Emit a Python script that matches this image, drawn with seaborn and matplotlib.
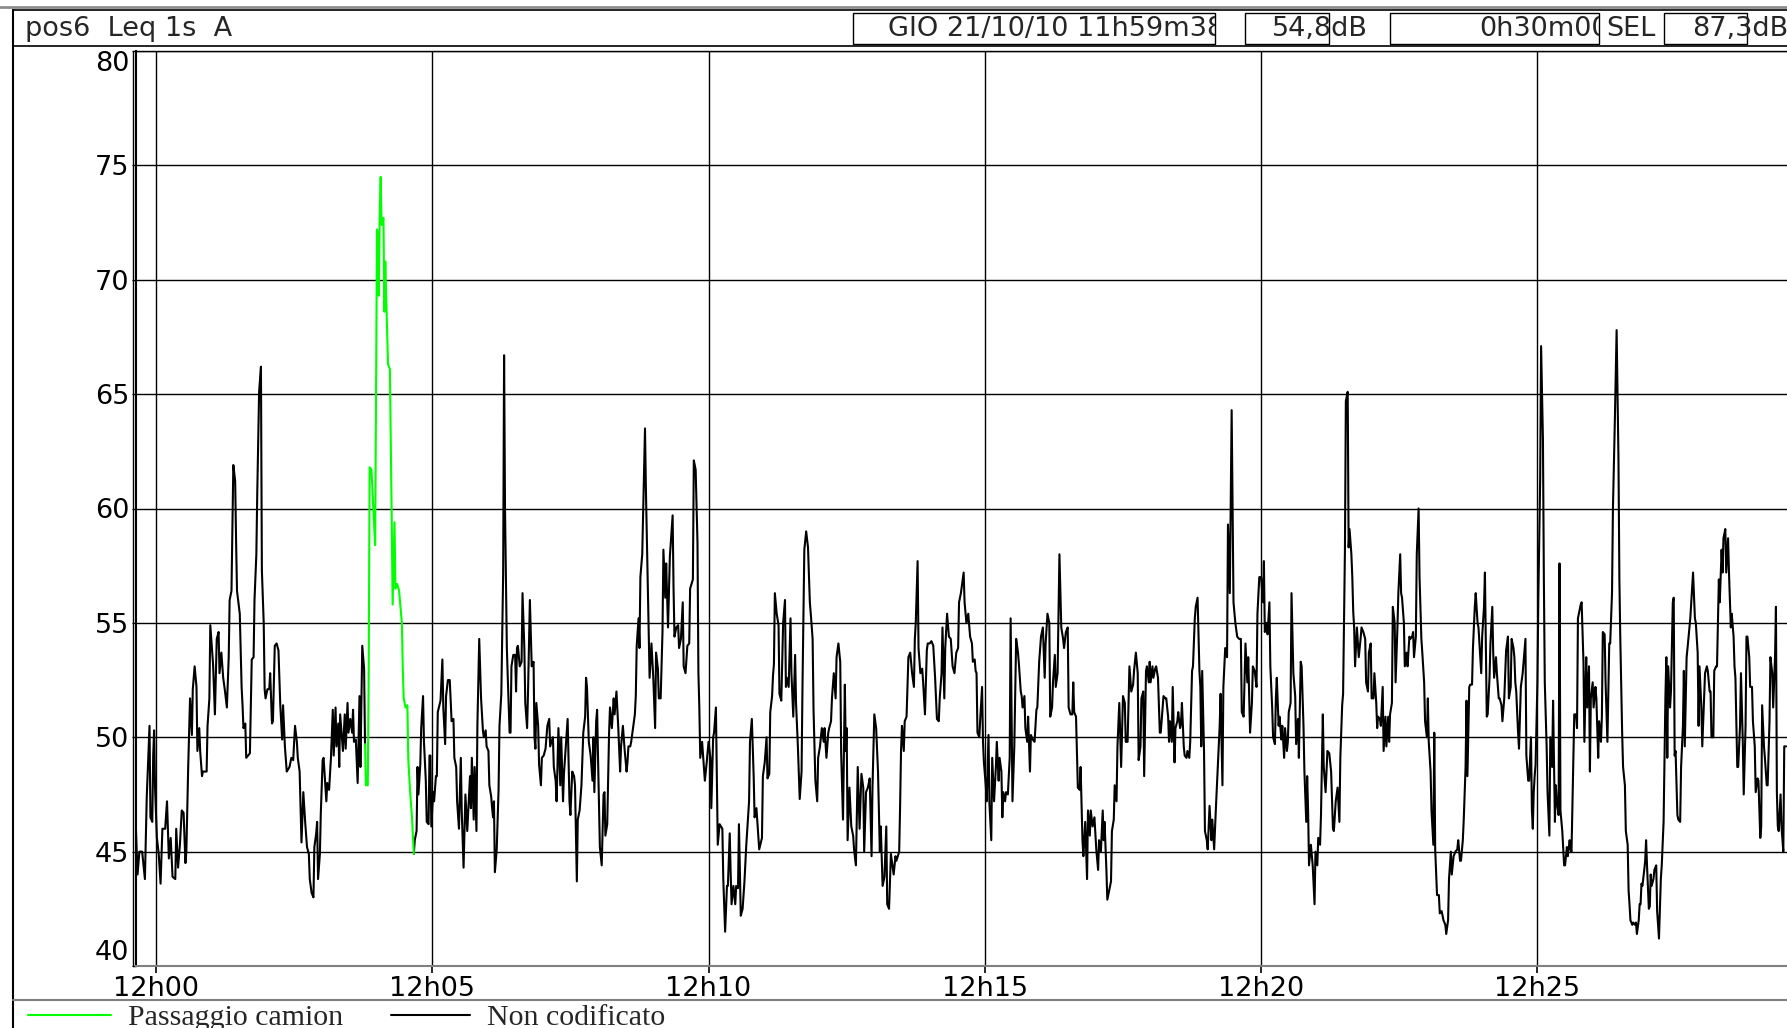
import numpy as np
import pandas as pd
import matplotlib
matplotlib.use("Agg")
import matplotlib.pyplot as plt
import matplotlib.dates as mdates
from matplotlib.lines import Line2D
from matplotlib.patches import Rectangle
from matplotlib.transforms import Bbox, TransformedBbox
import seaborn as sns

W, H = 1787, 1028
START = pd.Timestamp("2010-10-21 11:59:38")
VIEW_END = START + pd.Timedelta(seconds=1793)

TRUCK = "Passaggio camion"
OTHER = "Non codificato"
Y_TICKS = [40, 45, 50, 55, 60, 65, 70, 75, 80]

HEADER_TITLE = "pos6  Leq 1s  A"
HEADER_DATE = "GIO 21/10/10 11h59m38"
HEADER_LEQ = "54,8dB"
HEADER_DUR = "0h30m00"
HEADER_SEL_LABEL = "SEL"
HEADER_SEL = "87,3dB"

# Leq 1s (dB A), seconds after 11:59:38
sec_1200 = [0, 2, 4, 7, 10, 12, 15, 16, 18, 19,
            20, 21, 23, 25, 27, 29, 32, 34, 36, 38,
            40, 43, 44, 46, 48, 50, 52, 54, 55, 57,
            59, 61, 62, 64, 66, 67, 69, 70, 72, 73,
            77, 78, 80, 81, 84, 86, 88, 90, 91, 93,
            95, 97, 99, 101, 102, 104, 106, 108, 109, 110,
            113, 115, 116, 117, 119, 120, 122, 124, 126, 128,
            129, 131, 132, 134, 136, 137, 139, 140, 141, 143,
            145, 146, 148, 149, 151, 153, 155, 157, 159, 160,
            162, 164, 167, 169, 171, 173, 175, 176, 178, 180,
            182, 184, 186, 188, 189, 191, 193, 194, 196, 197,
            198, 200, 201, 203, 204, 207, 208, 210, 212, 214,
            215, 217, 218, 220, 221, 222, 225, 227, 228, 230,
            231, 233, 235, 236, 237, 239, 241, 243, 244, 246,
            248, 249]
db_1200 = [46.3, 44.0, 45.0, 45.0, 43.8, 47.4, 50.5, 46.5, 46.3, 49.2,
           50.3, 47.8, 45.6, 44.9, 43.6, 46.0, 46.0, 47.2, 44.7, 45.6,
           43.9, 43.8, 46.0, 44.3, 45.3, 46.8, 46.7, 44.5, 45.0, 48.7,
           51.7, 50.1, 52.1, 53.1, 52.2, 49.4, 50.4, 49.4, 48.3, 48.5,
           48.5, 50.5, 51.7, 54.9, 53.2, 51.0, 54.3, 54.6, 52.8, 53.7,
           52.6, 52.0, 51.3, 53.5, 56.0, 56.4, 61.9, 61.2, 58.6, 56.4,
           55.4, 52.2, 51.4, 50.4, 50.6, 49.1, 49.2, 49.3, 53.4, 53.5,
           56.0, 58.0, 60.7, 65.1, 66.2, 57.3, 55.0, 52.1, 51.7, 52.1,
           52.1, 52.8, 50.6, 50.7, 54.0, 54.1, 53.8, 51.4, 49.9, 51.4,
           49.6, 48.5, 48.7, 49.1, 49.0, 50.5, 49.8, 49.1, 48.5, 45.4,
           47.6, 46.3, 45.2, 44.9, 43.8, 43.2, 43.0, 45.2, 45.8, 46.3,
           43.8, 44.9, 46.7, 49.0, 49.1, 47.2, 48.0, 47.7, 49.1, 51.2,
           49.2, 51.3, 49.6, 50.6, 48.7, 51.0, 49.4, 51.0, 49.5, 51.5,
           50.2, 50.8, 50.2, 51.2, 49.8, 49.9, 48.0, 51.8, 48.7, 54.0,
           53.0, 49.7]

truck_sec = [249, 250, 252, 253, 254, 256, 258, 260, 261, 262,
             263, 264, 265, 266, 267, 269, 270, 271, 272, 274,
             276, 278, 279, 281, 282, 284, 286, 289, 290, 291,
             293, 295, 296, 298, 300, 302]
truck_db = [49.7, 47.9, 47.9, 52.8, 61.8, 61.7, 60.0, 58.4, 65.2, 72.2,
            72.0, 69.3, 73.0, 74.5, 72.4, 72.7, 68.6, 70.8, 69.2, 66.3,
            66.1, 59.5, 55.8, 59.4, 56.5, 56.7, 56.4, 55.0, 53.0, 51.7,
            51.3, 51.4, 49.0, 47.6, 46.5, 44.9]

sec_1205 = [302, 303, 305, 306, 307, 309, 310, 312, 313, 315,
            316, 318, 319, 320, 321, 323, 324, 326, 327, 328,
            331, 333, 334, 336, 337, 339, 341, 343, 345, 346,
            348, 349, 351, 353, 354, 356, 358, 360, 361, 363,
            364, 365, 367, 368, 370, 371, 373, 375, 377, 378,
            380, 381, 383, 384, 386, 387, 388, 389, 390, 392,
            394, 395, 397, 399, 400, 401, 403, 404, 406, 407,
            408, 410, 412, 413, 414, 415, 417, 419, 420, 422,
            423, 425, 426, 428, 430, 432, 433, 434, 435, 437,
            438, 440, 441, 443, 445, 447, 449, 450, 453, 454,
            456, 457, 459, 461, 462, 464, 465, 467, 469, 471,
            472, 474, 476, 477, 479, 480, 482, 484, 486, 488,
            489, 490, 492, 494, 496, 497, 498, 500, 501, 502,
            504, 506, 508, 509, 510, 512, 514, 515, 517, 519,
            520, 522, 524, 526, 527, 529, 531, 533, 534, 535,
            537, 538, 540, 542, 543, 544, 546, 547, 548, 550,
            551, 553, 554, 556, 558, 560, 562, 564, 565, 567,
            568, 570, 572, 573, 575, 576, 578, 580, 581, 583,
            584, 585, 587, 589, 590, 592, 594, 595, 597, 599,
            601, 602, 605, 606, 608, 610, 611, 612, 613, 615,
            618, 620]
db_1205 = [44.9, 45.5, 45.9, 48.7, 47.5, 48.8, 50.4, 51.8, 49.8, 48.1,
           46.3, 46.2, 49.2, 49.2, 46.1, 47.6, 47.2, 48.3, 48.3, 51.1,
           51.6, 53.4, 51.3, 49.7, 51.8, 52.5, 52.5, 50.7, 50.8, 49.1,
           48.7, 47.2, 46.0, 49.1, 46.8, 44.3, 47.5, 45.9, 46.7, 48.3,
           46.9, 49.1, 46.4, 48.7, 45.9, 50.5, 54.3, 51.7, 50.3, 50.0,
           50.3, 49.6, 49.4, 47.9, 47.4, 46.9, 46.5, 47.2, 44.1, 45.1,
           47.7, 50.5, 51.9, 57.2, 66.7, 60.0, 53.9, 52.6, 50.2, 50.2,
           53.1, 53.6, 53.6, 52.0, 53.9, 54.0, 53.1, 53.3, 56.3, 53.9,
           51.5, 50.4, 52.0, 56.0, 53.1, 53.3, 50.0, 49.5, 51.5, 50.5,
           48.8, 47.9, 49.1, 49.2, 49.5, 50.5, 50.8, 49.6, 50.0, 48.7,
           48.1, 47.2, 50.4, 47.9, 50.0, 47.2, 48.4, 49.6, 50.8, 47.2,
           46.6, 48.5, 48.3, 47.9, 43.7, 46.4, 46.8, 47.9, 50.2, 50.9,
           52.6, 52.2, 49.8, 49.2, 48.1, 50.0, 47.6, 50.7, 51.2, 49.1,
           45.2, 44.4, 47.5, 47.6, 45.7, 46.2, 50.2, 51.3, 50.4, 51.7,
           51.0, 52.0, 50.4, 48.5, 49.6, 50.5, 49.4, 48.5, 48.9, 49.6,
           49.6, 49.8, 50.4, 51.0, 51.8, 54.0, 55.2, 53.9, 57.0, 58.0,
           59.8, 63.5, 60.8, 56.7, 52.6, 54.1, 52.6, 50.4, 53.7, 53.0,
           51.7, 51.7, 54.6, 58.2, 56.1, 57.6, 54.8, 57.9, 58.5, 59.7,
           56.5, 54.4, 54.8, 54.9, 53.9, 54.3, 55.9, 53.1, 52.8, 54.0,
           54.1, 56.5, 56.9, 62.1, 61.7, 58.5, 52.8, 51.3, 49.1, 49.8,
           48.1, 48.9]

sec_1210 = [622, 624, 625, 627, 628, 630, 632, 634, 637, 638,
            640, 642, 643, 645, 646, 647, 649, 651, 652, 654,
            655, 657, 659, 661, 663, 665, 666, 667, 669, 671,
            672, 674, 676, 677, 680, 681, 683, 685, 686, 688,
            689, 691, 692, 693, 694, 696, 698, 699, 701, 703,
            705, 706, 707, 709, 711, 712, 714, 716, 717, 719,
            721, 723, 724, 726, 728, 730, 732, 733, 735, 736,
            738, 740, 741, 743, 745, 747, 748, 750, 752, 753,
            755, 756, 758, 760, 761, 763, 765, 766, 768, 770,
            771, 772, 773, 775, 777, 779, 780, 782, 784, 786,
            788, 790, 791, 793, 795, 797, 799, 800, 802, 804,
            806, 808, 809, 811, 813, 815, 816, 818, 820, 821,
            823, 825, 826, 829, 830, 831, 832, 834, 835, 837,
            839, 841, 843, 845, 846, 847, 849, 850, 852, 854,
            855, 857, 859, 860, 862, 864, 866, 868, 870, 872,
            873, 875, 876, 878, 879, 881, 883, 885, 887, 889,
            891, 893, 894, 896, 899, 900, 902, 904, 906, 908,
            909, 911, 912, 913, 914, 916, 917, 919, 920, 921]
db_1210 = [49.8, 49.1, 46.9, 50.0, 50.2, 51.3, 45.3, 46.2, 46.0, 43.8,
           41.5, 43.5, 43.5, 45.8, 44.1, 42.7, 43.5, 42.7, 43.5, 43.4,
           46.2, 42.2, 42.5, 43.7, 45.3, 46.6, 47.2, 49.8, 50.8, 48.3,
           46.5, 46.9, 45.7, 45.1, 45.6, 48.3, 48.9, 50.0, 48.2, 48.4,
           51.1, 51.8, 52.7, 53.2, 56.3, 55.4, 54.9, 51.9, 51.6, 55.0,
           56.0, 52.2, 52.6, 52.2, 55.2, 52.8, 50.9, 53.6, 51.5, 49.6,
           47.3, 48.5, 52.2, 58.2, 59.0, 58.3, 55.9, 55.4, 54.3, 51.2,
           48.1, 47.2, 49.1, 49.6, 50.4, 49.8, 50.4, 49.1, 50.2, 50.4,
           50.7, 51.7, 52.8, 51.7, 53.5, 54.1, 53.3, 49.3, 46.4, 52.3,
           49.4, 50.4, 45.5, 47.8, 46.1, 45.7, 45.1, 44.4, 48.7, 46.0,
           48.4, 47.8, 45.0, 47.6, 47.8, 48.2, 44.8, 47.8, 51.0, 50.4,
           48.5, 45.0, 46.1, 43.5, 43.9, 46.1, 42.7, 42.5, 44.9, 44.6,
           44.0, 44.8, 44.6, 45.0, 47.0, 49.4, 50.5, 49.4, 50.7, 50.9,
           53.5, 53.7, 52.8, 52.2, 54.3, 55.0, 57.7, 53.9, 52.8, 53.0,
           52.4, 51.0, 53.8, 54.1, 54.1, 54.2, 54.0, 52.6, 50.8, 50.7,
           51.7, 52.8, 54.8, 51.7, 53.9, 55.4, 54.4, 54.3, 53.1, 52.8,
           53.7, 53.9, 55.9, 56.3, 57.2, 55.9, 55.0, 55.4, 54.4, 54.1,
           53.3, 53.4, 52.9, 52.8, 50.2, 50.0, 50.8, 52.2, 49.8, 48.9]

sec_1215 = [923, 924, 926, 927, 929, 930, 932, 934, 935, 937,
            938, 940, 941, 942, 944, 945, 947, 949, 950, 952,
            954, 956, 958, 959, 961, 962, 963, 965, 966, 968,
            969, 971, 972, 974, 976, 978, 979, 981, 983, 985,
            987, 988, 990, 992, 993, 995, 996, 998, 999, 1001,
            1003, 1005, 1007, 1008, 1010, 1012, 1013, 1015, 1017, 1018,
            1019, 1021, 1023, 1025, 1026, 1028, 1029, 1031, 1033, 1034,
            1036, 1037, 1039, 1041, 1043, 1045, 1046, 1048, 1050, 1051,
            1052, 1054, 1055, 1057, 1059, 1060, 1062, 1063, 1065, 1066,
            1068, 1070, 1072, 1074, 1075, 1077, 1079, 1081, 1083, 1084,
            1086, 1088, 1089, 1091, 1092, 1094, 1095, 1097, 1098, 1100,
            1101, 1102, 1104, 1105, 1107, 1108, 1110, 1112, 1113, 1115,
            1116, 1118, 1119, 1121, 1122, 1123, 1125, 1126, 1128, 1129,
            1131, 1132, 1134, 1135, 1136, 1138, 1139, 1141, 1142, 1144,
            1145, 1147, 1148, 1150, 1151, 1153, 1155, 1156, 1157, 1158,
            1160, 1161, 1163, 1164, 1166, 1168, 1169, 1171, 1173, 1175,
            1177, 1178, 1180, 1181, 1183, 1185, 1186, 1188, 1189, 1190,
            1192, 1194, 1196, 1198, 1200, 1201, 1203, 1205, 1207, 1208,
            1210, 1212, 1213, 1215, 1217, 1218, 1220]
db_1215 = [47.9, 47.2, 50.1, 47.1, 45.5, 49.1, 47.2, 48.7, 49.8, 48.1,
           49.1, 48.5, 46.5, 47.6, 47.2, 47.6, 47.5, 49.1, 55.2, 47.2,
           49.6, 54.3, 53.7, 53.2, 52.0, 51.8, 51.3, 51.8, 50.4, 49.8,
           50.9, 48.5, 50.1, 49.9, 49.8, 51.2, 51.3, 53.3, 54.4, 54.8,
           52.6, 54.1, 55.4, 55.0, 50.9, 51.3, 52.4, 53.6, 52.2, 52.8,
           58.0, 54.8, 54.3, 53.9, 54.6, 54.8, 51.3, 51.0, 51.0, 52.4,
           51.1, 50.9, 47.8, 47.7, 48.7, 45.5, 44.8, 46.3, 43.8, 46.8,
           45.7, 46.8, 46.1, 46.5, 45.1, 44.2, 45.5, 45.0, 46.8, 45.5,
           46.3, 44.2, 42.9, 43.3, 43.7, 45.9, 46.4, 47.9, 47.2, 49.6,
           51.5, 48.7, 51.8, 51.5, 49.8, 49.8, 53.1, 52.0, 52.3, 52.9,
           53.7, 52.8, 49.0, 49.6, 51.7, 52.0, 48.3, 52.9, 53.1, 52.4,
           53.3, 52.4, 53.1, 52.6, 53.0, 53.1, 52.6, 50.2, 50.2, 51.3,
           51.8, 51.7, 51.7, 50.9, 49.8, 50.7, 49.8, 52.2, 48.9, 50.4,
           50.7, 51.1, 50.4, 50.6, 51.5, 49.6, 49.2, 49.1, 49.4, 49.1,
           49.8, 52.9, 53.1, 55.2, 55.7, 56.1, 52.9, 52.2, 49.6, 52.9,
           49.4, 45.9, 45.5, 45.1, 47.0, 45.5, 46.4, 45.1, 47.0, 48.7,
           50.5, 51.9, 47.9, 52.2, 53.9, 53.5, 59.3, 56.3, 60.2, 64.3,
           55.9, 55.0, 54.4, 54.3, 54.3, 51.1, 50.9, 54.1, 52.4, 53.5,
           50.2, 51.5, 53.1, 52.9, 52.2, 55.4, 57.0]

sec_1220 = [1222, 1224, 1225, 1226, 1228, 1229, 1231, 1232, 1234, 1235,
            1237, 1238, 1239, 1241, 1242, 1244, 1245, 1247, 1248, 1250,
            1251, 1252, 1254, 1255, 1257, 1259, 1260, 1262, 1263, 1265,
            1266, 1268, 1269, 1271, 1272, 1273, 1274, 1276, 1278, 1280,
            1281, 1283, 1284, 1286, 1287, 1289, 1290, 1292, 1294, 1296,
            1298, 1300, 1301, 1303, 1305, 1307, 1308, 1310, 1311, 1313,
            1314, 1316, 1317, 1318, 1320, 1321, 1322, 1323, 1324, 1326,
            1328, 1330, 1331, 1333, 1335, 1336, 1338, 1339, 1341, 1342,
            1344, 1345, 1347, 1348, 1349, 1351, 1352, 1354, 1355, 1357,
            1358, 1360, 1361, 1362, 1364, 1365, 1367, 1368, 1370, 1371,
            1373, 1374, 1375, 1377, 1378, 1380, 1381, 1383, 1384, 1386,
            1387, 1388, 1390, 1391, 1393, 1394, 1396, 1397, 1399, 1400,
            1402, 1403, 1404, 1406, 1407, 1409, 1410, 1411, 1413, 1415,
            1416, 1418, 1419, 1420, 1422, 1423, 1425, 1426, 1428, 1429,
            1431, 1432, 1433, 1435, 1436, 1438, 1439, 1441, 1442, 1444,
            1445, 1446, 1448, 1449, 1451, 1452, 1454, 1455, 1457, 1458,
            1460, 1461, 1462, 1464, 1465, 1467, 1468, 1470, 1471, 1473,
            1474, 1475, 1477, 1478, 1480, 1481, 1483, 1484, 1486, 1487,
            1488, 1490, 1491, 1493, 1494, 1496, 1497, 1498, 1499, 1501,
            1502, 1504, 1506, 1507, 1509, 1510, 1512, 1513, 1515, 1516,
            1517, 1518, 1519, 1520]
db_1220 = [57.0, 55.9, 57.7, 54.6, 55.0, 54.5, 55.9, 53.1, 51.3, 50.0,
           49.7, 51.7, 52.6, 50.5, 50.9, 49.9, 50.5, 49.1, 50.4, 49.4,
           49.8, 51.1, 51.5, 56.3, 52.8, 51.8, 49.7, 50.8, 49.1, 53.3,
           53.1, 50.5, 48.5, 46.3, 48.3, 46.8, 44.4, 45.3, 44.4, 42.7,
           45.0, 44.4, 45.6, 45.3, 46.6, 51.0, 48.7, 47.6, 49.4, 49.3,
           48.5, 46.0, 45.9, 47.2, 47.8, 46.3, 49.1, 51.4, 51.9, 58.2,
           64.7, 65.1, 58.3, 59.1, 58.0, 57.0, 55.5, 54.8, 53.1, 54.8,
           53.5, 54.3, 54.8, 54.6, 54.3, 52.4, 52.0, 53.7, 54.1, 51.7,
           51.7, 52.8, 51.5, 50.4, 50.9, 50.8, 50.5, 52.2, 49.4, 50.9,
           49.6, 50.9, 49.8, 51.0, 51.5, 55.7, 55.0, 52.4, 54.8, 56.3,
           58.0, 56.3, 56.1, 55.0, 53.1, 53.7, 53.1, 54.4, 54.3, 54.4,
           54.6, 53.5, 54.4, 58.0, 60.0, 57.0, 54.3, 53.7, 52.4, 50.7,
           50.0, 51.7, 49.8, 48.5, 46.8, 45.3, 50.2, 45.1, 43.1, 43.1,
           42.3, 42.4, 42.2, 42.0, 41.8, 41.4, 42.0, 43.8, 45.0, 44.0,
           44.8, 44.9, 45.0, 45.1, 45.5, 44.6, 44.6, 45.5, 46.4, 48.7,
           51.6, 48.3, 52.2, 52.3, 52.3, 53.9, 55.7, 56.3, 55.0, 54.8,
           53.5, 52.8, 54.4, 55.7, 57.2, 50.9, 51.0, 52.6, 54.1, 55.7,
           53.7, 52.6, 53.5, 52.8, 51.7, 51.7, 51.4, 50.7, 51.7, 52.8,
           53.8, 54.4, 51.7, 52.2, 54.3, 53.9, 53.5, 52.4, 52.0, 50.2,
           49.5, 52.2, 52.8, 53.3, 54.3, 49.2, 48.1, 48.1, 50.0, 46.8,
           46.0, 47.6, 48.3, 48.8]

sec_1225 = [1522, 1523, 1525, 1526, 1528, 1529, 1530, 1532, 1533, 1535,
            1536, 1538, 1539, 1541, 1542, 1543, 1545, 1546, 1547, 1549,
            1551, 1552, 1554, 1555, 1557, 1558, 1559, 1561, 1562, 1564,
            1565, 1566, 1567, 1569, 1570, 1572, 1573, 1575, 1576, 1578,
            1579, 1580, 1582, 1583, 1585, 1586, 1588, 1589, 1591, 1592,
            1593, 1595, 1596, 1598, 1599, 1600, 1601, 1603, 1604, 1606,
            1608, 1609, 1610, 1611, 1612, 1614, 1615, 1617, 1618, 1620,
            1621, 1622, 1623, 1625, 1626, 1628, 1629, 1630, 1632, 1633,
            1634, 1635, 1636, 1638, 1639, 1640, 1641, 1643, 1644, 1645,
            1646, 1648, 1649, 1651, 1652, 1654, 1656, 1657, 1659, 1661,
            1662, 1663, 1664, 1666, 1667, 1669, 1670, 1671, 1672, 1674,
            1675, 1677, 1678, 1680, 1681, 1682, 1684, 1685, 1687, 1688,
            1690, 1691, 1693, 1694, 1696, 1697, 1698, 1700, 1701, 1703,
            1704, 1706, 1707, 1709, 1710, 1711, 1713, 1714, 1716, 1717,
            1719, 1720, 1722, 1723, 1724, 1726, 1727, 1729, 1730, 1732,
            1733, 1735, 1736, 1737, 1739, 1740, 1742, 1743, 1745, 1746,
            1748, 1749, 1750, 1752, 1753, 1755, 1756, 1758, 1759, 1761,
            1762, 1764, 1765, 1766, 1768, 1769, 1771, 1772, 1774, 1775,
            1777, 1778, 1780, 1781, 1782, 1783, 1784, 1786, 1787, 1789,
            1790, 1792]
db_1225 = [52.4, 56.1, 61.3, 67.1, 63.0, 56.9, 52.4, 49.6, 47.6, 45.7,
           50.0, 48.7, 51.6, 46.3, 47.9, 47.2, 46.6, 57.6, 46.8, 45.9,
           44.4, 44.4, 45.2, 44.8, 45.5, 45.1, 45.0, 49.1, 51.0, 51.0,
           50.4, 55.2, 55.4, 55.8, 55.9, 53.3, 49.8, 53.5, 51.3, 53.1,
           48.5, 51.7, 52.4, 51.3, 52.2, 51.7, 49.1, 50.7, 49.8, 50.9,
           54.6, 54.5, 52.4, 49.8, 52.0, 54.1, 54.1, 56.3, 60.0, 63.7,
           67.8, 65.0, 62.2, 56.9, 54.3, 50.2, 48.7, 47.9, 45.9, 45.3,
           43.3, 42.7, 42.0, 41.8, 41.9, 41.8, 41.9, 41.4, 42.0, 42.7,
           42.7, 43.6, 43.5, 44.2, 44.6, 45.5, 44.4, 42.5, 42.6, 44.0,
           43.5, 43.8, 44.2, 44.4, 42.4, 41.2, 43.8, 44.4, 46.3, 51.8,
           53.5, 49.1, 53.1, 51.3, 52.0, 55.9, 56.1, 49.2, 49.4, 46.6,
           46.4, 46.3, 48.7, 50.5, 52.9, 49.6, 53.5, 53.9, 54.8, 55.2,
           56.5, 57.2, 55.2, 55.0, 53.7, 50.5, 53.1, 51.3, 49.6, 51.8,
           52.8, 53.1, 52.9, 52.0, 52.0, 50.0, 50.0, 52.9, 53.1, 53.1,
           56.9, 55.9, 58.2, 57.2, 58.7, 59.1, 57.2, 58.7, 57.2, 54.8,
           55.4, 54.4, 53.1, 52.6, 48.7, 48.7, 50.5, 52.8, 49.8, 47.5,
           50.5, 54.4, 54.4, 53.5, 52.2, 52.2, 50.7, 49.6, 47.6, 48.2,
           48.1, 45.6, 46.1, 51.4, 49.6, 49.1, 47.9, 47.9, 50.7, 53.5,
           52.8, 51.3, 53.5, 55.7, 47.6, 46.1, 45.9, 47.5, 46.1, 45.0,
           49.6, 49.6]


def block(sec, db, code, seg):
    assert len(sec) == len(db), seg
    return pd.DataFrame({"sec": sec, "db": db, "code": code, "seg": seg})


after_sec = sec_1205 + sec_1210 + sec_1215 + sec_1220 + sec_1225
after_db = db_1205 + db_1210 + db_1215 + db_1220 + db_1225
df = pd.concat([block(sec_1200, db_1200, OTHER, "before"),
                block(truck_sec, truck_db, TRUCK, "truck"),
                block(after_sec, after_db, OTHER, "after")], ignore_index=True)
df["time"] = START + pd.to_timedelta(df["sec"], unit="s")

sns.set_theme(style="white")
plt.rcParams["font.family"] = ["DejaVu Sans"]
FS = 19.5

fig = plt.figure(figsize=(W / 100, H / 100), dpi=100)
fig.patch.set_facecolor("white")


def fx(x):
    return x / W


def fy(y):
    return 1 - y / H


ax = fig.add_axes([fx(135.7), fy(966), 1 - fx(135.7), fy(51) - fy(966)])
sns.lineplot(data=df, x="time", y="db", hue="code", units="seg", estimator=None,
             sort=False, hue_order=[OTHER, TRUCK],
             palette={OTHER: "black", TRUCK: "#00ff00"},
             linewidth=1.5, legend=False, ax=ax)
ax.set_xlim(START, VIEW_END)
ax.set_ylim(40, 80)
ax.set_yticks(Y_TICKS)
ax.xaxis.set_major_locator(mdates.MinuteLocator(byminute=range(0, 60, 5)))
ax.xaxis.set_major_formatter(mdates.DateFormatter("%Hh%M"))
ax.grid(True, color="black", linewidth=1.0)
ax.set_xlabel("")
ax.set_ylabel("")
ax.tick_params(axis="x", direction="out", length=5, width=1.2, pad=2,
               labelsize=FS, colors="black", bottom=True)
ax.tick_params(axis="y", direction="out", length=3, width=1.0, pad=1.5,
               labelsize=FS, colors="black", left=True)
yt = ax.yaxis.get_major_ticks()
yt[0].label1.set_verticalalignment("bottom")
yt[-1].label1.set_verticalalignment("top")

ax.spines["right"].set_visible(False)
ax.spines["top"].set_color("black")
ax.spines["top"].set_linewidth(1.0)
ax.spines["left"].set_color("black")
ax.spines["left"].set_linewidth(1.5)
ax.spines["bottom"].set_color("#808080")
ax.spines["bottom"].set_linewidth(1.5)
fig.add_artist(Line2D([fx(132.5)] * 2, [fy(51), fy(966)], color="black", lw=1.0))


def box(x0, y0, x1, y1, lw=1.0, color="black"):
    fig.add_artist(Rectangle((fx(x0), fy(y1)), fx(x1) - fx(x0), fy(y0) - fy(y1),
                             transform=fig.transFigure, fill=False,
                             edgecolor=color, linewidth=lw))


def clip_to(t, x0, y0, x1, y1):
    t.set_clip_box(TransformedBbox(Bbox.from_extents(fx(x0), fy(y1), fx(x1), fy(y0)),
                                   fig.transFigure))
    t.set_clip_on(True)


# header strip
fig.add_artist(Line2D([0, 1], [fy(7)] * 2, color="#8c8c8c", lw=2))
box(13, 10, W + 5, 46, lw=1.2)
fig.text(fx(25), fy(29), HEADER_TITLE, ha="left", va="center", fontsize=FS)
box(853, 13, 1215, 44)
t = fig.text(fx(1224), fy(29), HEADER_DATE, ha="right", va="center", fontsize=FS)
clip_to(t, 853, 13, 1215, 44)
box(1245, 13, 1329, 44)
fig.text(fx(1272), fy(29), HEADER_LEQ, ha="left", va="center", fontsize=FS)
box(1390, 13, 1599, 44)
t = fig.text(fx(1609), fy(29), HEADER_DUR, ha="right", va="center", fontsize=FS)
clip_to(t, 1390, 13, 1599, 44)
fig.text(fx(1606), fy(29), HEADER_SEL_LABEL, ha="left", va="center", fontsize=FS)
box(1664, 13, 1747, 44)
fig.text(fx(1692), fy(29), HEADER_SEL, ha="left", va="center", fontsize=FS)

# outer frame + legend strip
fig.add_artist(Line2D([fx(13)] * 2, [fy(10), 0], color="black", lw=1.5))
fig.add_artist(Line2D([fx(13), 1], [fy(1000)] * 2, color="#808080", lw=1.5))
fig.add_artist(Line2D([fx(28), fx(111)], [fy(1015)] * 2, color="#00ff00", lw=1.5))
fig.text(fx(128), fy(1025), TRUCK, ha="left", va="baseline", fontsize=21.5,
         family=["Liberation Serif", "DejaVu Serif"])
fig.add_artist(Line2D([fx(391), fx(470)], [fy(1015)] * 2, color="black", lw=1.5))
fig.text(fx(487), fy(1025), OTHER, ha="left", va="baseline", fontsize=21.5,
         family=["Liberation Serif", "DejaVu Serif"])

fig.savefig("out.png", dpi=100, facecolor="white")
